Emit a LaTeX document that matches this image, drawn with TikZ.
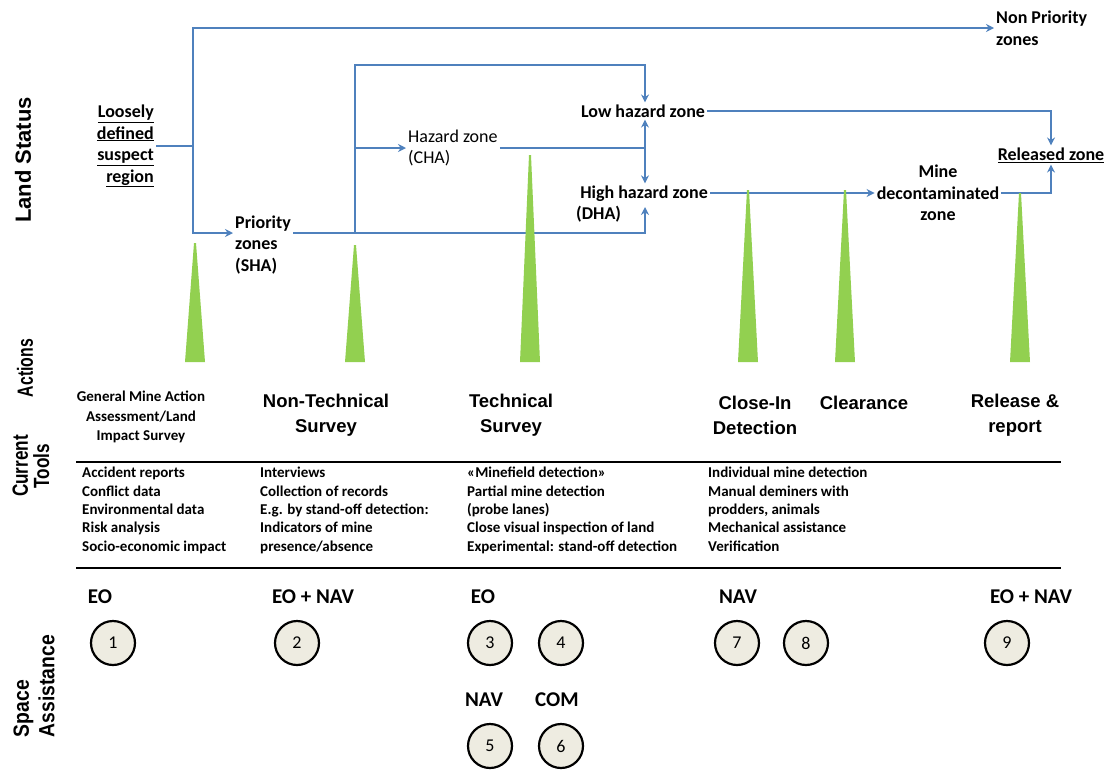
\documentclass[tikz,border=0pt]{standalone}
\usepackage{fontspec}
\setmainfont{Carlito}
\newfontfamily\headfont{Liberation Sans}
\usetikzlibrary{arrows.meta}

\definecolor{flowblue}{HTML}{4F81BD}
\definecolor{spikegreen}{HTML}{92D050}
\definecolor{badgefill}{HTML}{EEECE1}

\begin{document}
\begin{tikzpicture}[
            x=1pt, y=-1pt,
            rowlabel/.style={
                rotate=90, font=\headfont\bfseries\fontsize{#1}{16}\selectfont,
                inner sep=0pt
            },
            zone/.style={
                font=\bfseries\fontsize{18}{21.5}\selectfont, inner sep=2pt
            },
            action/.style={
                align=center, inner sep=1pt,
                font=\headfont\bfseries\fontsize{18.5}{25}\selectfont
            },
            tools/.style={
                anchor=north west, align=left, inner sep=2pt,
                font=\bfseries\fontsize{15}{18.4}\selectfont
            },
            sat/.style={font=\bfseries\fontsize{21}{22}\selectfont, inner sep=1pt},
            badge/.style={
                circle, draw=black, line width=2.2pt, fill=badgefill,
                minimum size=44pt, inner sep=0pt, font=\fontsize{18}{20}\selectfont
            },
            flow/.style={draw=flowblue, line width=2.4pt},
            arrow/.style={flow, -{Stealth[length=8pt,width=8pt]}},
            rule/.style={black, line width=1.6pt}
        ]
        \useasboundingbox (0,0) rectangle (1109,769);

        % --- Row labels ---
        \node[rowlabel=22] (land) at (23,160) {Land Status};
        \node[rowlabel=22] (act) at (25,368) {\scalebox{0.72}[1]{Actions}};
        \node[rowlabel=22] (cur) at (31,466)
        {\scalebox{0.78}[1]{\shortstack{Current\\[2pt]Tools}}};
        \node[rowlabel=22] (space) at (34,686)
        {\scalebox{0.88}[1]{\shortstack[l]{Space\\[2pt]Assistance}}};

        % --- Land status ---
        \node[zone, align=right, anchor=east] (loose) at (156,146)
        {\underline{Loosely}\\\underline{defined}\\\underline{suspect}\\\underline{region}};
        \node[zone, align=left, anchor=west] (prio) at (233,245)
        {Priority\\zones\\(SHA)};
        \node[zone, align=left, anchor=west] (nonprio) at (994,28)
        {Non Priority\\zones};
        \node[zone, font=\fontsize{18}{21}\selectfont, align=left, anchor=west] (cha) at (406,148)
        {Hazard zone\\(CHA)};
        \node[zone] (low) at (643,111) {Low hazard zone};
        \node[zone, align=left, anchor=west] (high) at (574,204)
        {\ High hazard zone\\(DHA)};
        \node[zone, align=center] (mine) at (938,193)
        {Mine\\decontaminated\\zone};
        \node[zone] (released) at (1051,155) {\underline{Released zone}};

        \coordinate (split) at (193,146);
        \coordinate (fork) at (355,233);
        \coordinate (mid) at (645,148);
        \coordinate (lowtop) at (645,65);

        % --- Connectors ---
        \draw[flow] (loose) -- (split);
        \draw[arrow] (split) |- (nonprio);
        \draw[arrow] (split) |- ([yshift=12pt]prio.west);
        \draw[flow] ([yshift=12pt]prio.east) -- (fork);
        \draw[arrow] (fork) |- (lowtop) -- (mid |- low.north);
        \draw[arrow] (fork |- cha) -- (cha);
        \draw[arrow] (fork) -| ([yshift=-3pt]high.center -| mid);
        \draw[flow] (cha) -- (mid);
        \draw[arrow] (mid) -- (mid |- low.south);
        \draw[arrow] (mid) -- (mid |- high.north);
        \draw[arrow] (low) -| (released);
        \draw[arrow] ([yshift=11pt]high.east) -- (mine);
        \draw[arrow] (mine) -| (released);

        % --- Spikes ---
        \foreach \x/\top in {195/243, 355/245, 530/155, 748/190, 845/190, 1020/193}
            \fill[spikegreen] (\x-10,362) -- (\x-1,\top) -- (\x+1,\top) -- (\x+10,362) -- cycle;

        % --- Actions ---
        \node[action, font=\bfseries\fontsize{15}{19.5}\selectfont] (gma) at (141,417)
        {General Mine Action\\Assessment/Land\\Impact Survey};
        \node[action] (nts) at (326,415) {Non-Technical\\Survey};
        \node[action] (ts) at (511,415) {Technical\\Survey};
        \node[action] (cid) at (755,415) {Close-In\\Detection};
        \node[action] (clr) at (864,403) {Clearance};
        \node[action] (rel) at (1015,415) {Release \&\\report};

        % --- Current tools ---
        \draw[rule] (76,462) -- (1061,462);
        \draw[rule] (76,568) -- (1061,568);
        \node[tools] (tools1) at (80,465)
        {Accident reports\\Conflict data\\Environmental data\\Risk analysis\\Socio-economic impact};
        \node[tools] (tools2) at (258,465)
        {Interviews\\Collection of records\\E.g. by stand-off detection:\\Indicators of mine\\presence/absence};
        \node[tools] (tools3) at (465,465)
        {«Minefield detection»\\Partial mine detection\\(probe lanes)\\Close visual inspection of land\\Experimental: stand-off detection};
        \node[tools] (tools4) at (706,465)
        {Individual mine detection\\Manual deminers with\\prodders, animals\\Mechanical assistance\\Verification};

        % --- Space assistance ---
        \node[sat] (eoa) at (100,597) {EO};
        \node[sat] (eonava) at (313,597) {EO + NAV};
        \node[sat] (eob) at (483,597) {EO};
        \node[sat] (nava) at (738,597) {NAV};
        \node[sat] (eonavb) at (1031,597) {EO + NAV};
        \node[sat] (navb) at (484,700) {NAV};
        \node[sat] (com) at (557,700) {COM};

        \foreach \n/\x/\y in {1/113/643, 2/297/643, 3/490/643, 4/561/643, 7/737/643,
                              8/806/643, 9/1007/643, 5/490/746, 6/561/746}
            \node[badge] (b\n) at (\x,\y) {\n};

    \end{tikzpicture}
\end{document}
